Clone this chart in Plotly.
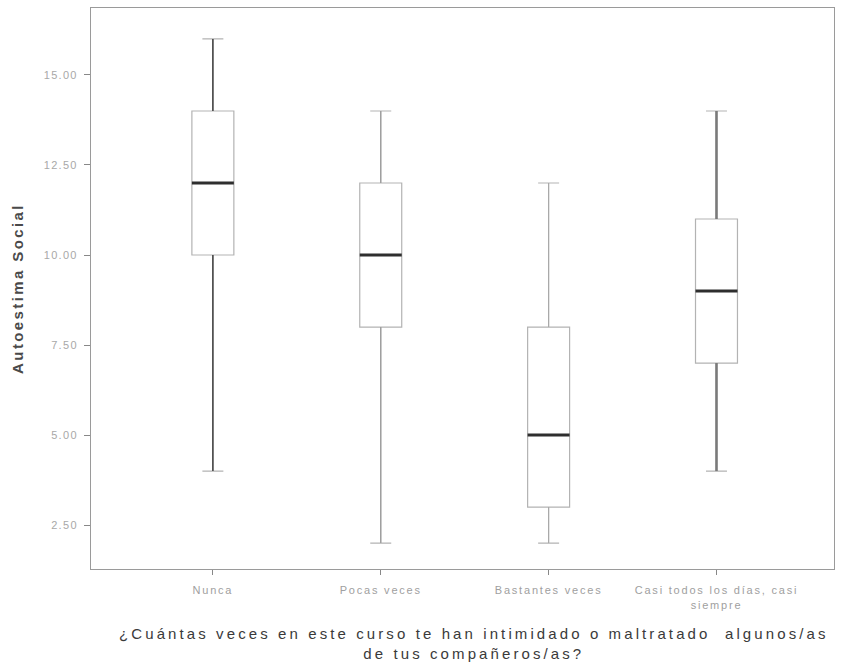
import plotly.graph_objects as go

# Social self-esteem by frequency of bullying by classmates
categories = ["Nunca", "Pocas veces", "Bastantes veces", "Casi todos los días, casi<br>siempre"]
lower_whisker = [4.0, 2.0, 2.0, 4.0]
q1 = [10.0, 8.0, 3.0, 7.0]
medians = [12.0, 10.0, 5.0, 9.0]
q3 = [14.0, 12.0, 8.0, 11.0]
upper_whisker = [16.0, 14.0, 12.0, 14.0]
y_ticks = [2.5, 5.0, 7.5, 10.0, 12.5, 15.0]
x_title = "¿Cuántas veces en este curso te han intimidado o maltratado  algunos/as<br>de tus compañeros/as?"
y_title = "Autoestima Social"

positions = list(range(len(categories)))
box_half = 0.125

# whisker styling per group
whisker_colors = ["#4a4a4a", "#9a9a9a", "#a8a8a8", "#7a7a7a"]
whisker_widths = [1.6, 1.2, 1.0, 2.6]


def spaced(text, px):
    """Wrap each line of a label in a letter-spaced span."""
    return "<br>".join(
        f'<span style="letter-spacing:{px}px">{line}</span>' for line in text.split("<br>")
    )


fig = go.Figure()

fig.add_trace(go.Box(
    x=positions,
    q1=q1,
    median=medians,
    q3=q3,
    lowerfence=lower_whisker,
    upperfence=upper_whisker,
    width=2 * box_half,
    whiskerwidth=0.5,
    line=dict(color="#b3b3b3", width=1.2),
    fillcolor="rgba(255,255,255,0)",
    boxpoints=False,
    hoverinfo="skip",
    showlegend=False,
))

# whisker stems drawn over the box trace
for i, p in enumerate(positions):
    for lo, hi in ((q3[i], upper_whisker[i]), (lower_whisker[i], q1[i])):
        fig.add_trace(go.Scatter(
            x=[p, p], y=[lo, hi], mode="lines",
            line=dict(color=whisker_colors[i], width=whisker_widths[i]),
            hoverinfo="skip", showlegend=False,
        ))

# heavy median bars
for i, p in enumerate(positions):
    fig.add_trace(go.Scatter(
        x=[p - box_half, p + box_half], y=[medians[i], medians[i]],
        mode="lines", line=dict(color="#2e2e2e", width=3),
        hoverinfo="skip", showlegend=False,
    ))

fig.update_layout(
    width=842, height=671,
    margin=dict(l=91, r=8, t=8, b=102),
    paper_bgcolor="white",
    plot_bgcolor="white",
    font=dict(family="Liberation Sans, Arial, sans-serif"),
    showlegend=False,
)

# x-axis title, placed slightly right of the plot centre
fig.add_annotation(
    text=spaced(x_title, 3.1),
    xref="paper", yref="paper",
    x=0.515, y=-0.097,
    xanchor="center", yanchor="top",
    showarrow=False,
    align="center",
    font=dict(size=15, color="#3a3a3a"),
)

fig.update_xaxes(
    range=[-0.726, 3.7],
    tickvals=positions,
    ticktext=[spaced(c, 1.8) for c in categories],
    ticks="outside", ticklen=5, tickcolor="#888888",
    ticklabelstandoff=6,
    tickfont=dict(size=11, color="#a0a0a0"),
    showgrid=False, zeroline=False,
    showline=True, linecolor="#9a9a9a", linewidth=1, mirror=True,
)

fig.update_yaxes(
    range=[1.28, 16.86],
    tickvals=y_ticks,
    ticktext=[spaced(f"{v:.2f}", 1.3) for v in y_ticks],
    ticks="outside", ticklen=6, tickcolor="#888888",
    ticklabelstandoff=4,
    tickfont=dict(size=11, color="#a8a8a8"),
    showgrid=False, zeroline=False,
    showline=True, linecolor="#9a9a9a", linewidth=1, mirror=True,
    title=dict(
        text=spaced(f"<b>{y_title}</b>", 2.4),
        font=dict(size=15, color="#4a4a4a"),
        standoff=16,
    ),
)

fig.write_html("out.html")
